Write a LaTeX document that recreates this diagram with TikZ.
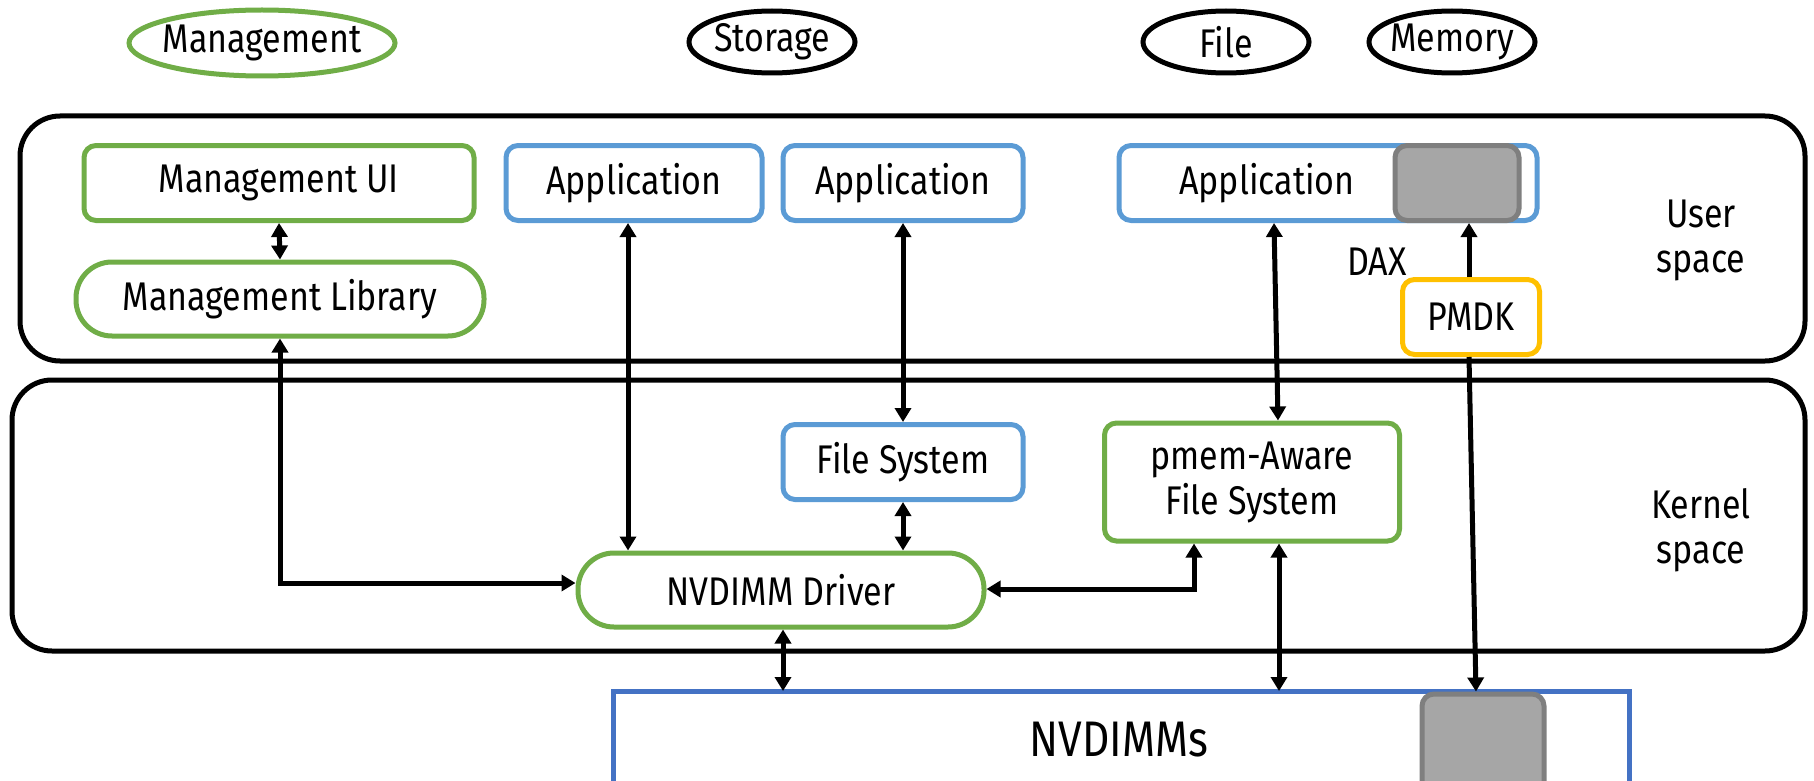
\documentclass[tikz,border=0pt]{standalone}
\usepackage{fontspec}
\setmainfont[FakeStretch=0.85]{Fira Sans}
\usetikzlibrary{arrows.meta,shapes.geometric}
\definecolor{grn}{HTML}{70AD47}
\definecolor{lblue}{HTML}{5B9BD5}
\definecolor{dblue}{HTML}{4472C4}
\definecolor{ylw}{HTML}{FFC000}
\definecolor{gfill}{HTML}{A6A6A6}
\definecolor{gline}{HTML}{7F7F7F}
\newcommand{\tagtext}[1]{\makebox[100pt]{#1}}
\tikzset{
  txt/.style={font=\fontsize{40}{45}\selectfont, inner sep=0pt, align=center},
  layer/.style={draw=black, line width=5pt, rounded corners=40pt},
  gbox/.style={txt, draw=grn, line width=5pt, rounded corners=12pt, fill=white},
  bbox/.style={txt, draw=lblue, line width=5pt, rounded corners=12pt, fill=white},
  pill/.style={txt, draw=grn, line width=5pt, rounded corners=36pt, fill=white},
  ybox/.style={txt, draw=ylw, line width=5pt, rounded corners=12pt, fill=white},
  daxbox/.style={draw=gline, fill=gfill, line width=5pt, rounded corners=12pt},
  tag/.style={txt, ellipse, draw=black, line width=5pt, minimum width=166pt, minimum height=62pt},
  biarrow/.style={line width=5pt, {Triangle[length=14pt,width=16pt]}-{Triangle[length=14pt,width=16pt]}},
  uparrow/.style={line width=5pt, -{Triangle[length=14pt,width=16pt]}},
}
\begin{document}
\begin{tikzpicture}[x=1pt,y=-1pt]
\useasboundingbox (0,0) rectangle (1814,781);
\clip (0,0) rectangle (1814,781);

% category tags
\node[tag, draw=grn, minimum width=266pt, minimum height=66pt] (tmgmt) at (262,43) {\tagtext{Management}};
\node[tag] (tstor) at (772,42) {\tagtext{Storage}};
\node[tag] (tfile) at (1226,42) {\tagtext{File}};
\node[tag] (tmem) at (1452,42) {\tagtext{Memory}};

% user and kernel layers
\draw[layer] (20,116) rectangle (1805,361);
\draw[layer] (12,380) rectangle (1805,651);
\node[txt] (ulabel) at (1701,240) {User\\space};
\node[txt] (klabel) at (1701,530) {Kernel\\space};

% user space components
\node[gbox, minimum width=390pt, minimum height=75pt] (mui) at (279,183) {Management UI};
\node[pill, minimum width=408pt, minimum height=74pt] (mlib) at (280,299) {Management Library};
\node[bbox, minimum width=256pt, minimum height=75pt] (app1) at (634,183) {Application};
\node[bbox, minimum width=240pt, minimum height=75pt] (app2) at (903,183) {Application};
\node[bbox, minimum width=418pt, minimum height=75pt] (app3) at (1328,183) {};
\node[txt] (app3t) at (1267,183) {Application};
\node[daxbox, minimum width=124pt, minimum height=75pt] (appdax) at (1457,183) {};
\node[txt] (dax) at (1377,262) {DAX};
\node[ybox, minimum width=137pt, minimum height=75pt] (pmdk) at (1471,317) {PMDK};

% kernel space components
\node[bbox, minimum width=240pt, minimum height=75pt] (fs) at (903,462) {File System};
\node[gbox, minimum width=295pt, minimum height=118pt] (pfs) at (1252,482) {pmem-Aware\\File System};
\node[pill, minimum width=406pt, minimum height=74pt] (drv) at (781,590) {NVDIMM Driver};

% persistent memory modules
\draw[draw=dblue, line width=5pt] (613,691) rectangle (1629,800);
\node[txt, font=\fontsize{50}{56}\selectfont] (nvd) at (1119,740) {NVDIMMs};
\node[daxbox, minimum width=122pt, minimum height=110pt] (nvdax) at (1483,749) {};
\coordinate (nvtop) at (1121,691);

% connectors
\draw[biarrow] (mui.south) -- (mlib.north);
\draw[biarrow] (mlib.south) |- (279,583 -| drv.west);
\draw[biarrow] (628,0 |- app1.south) -- (628,0 |- drv.north);
\draw[biarrow] (903,0 |- app2.south) -- (fs.north);
\draw[biarrow] (fs.south) -- (903,0 |- drv.north);
\draw[biarrow] (1274,0 |- app3.south) -- (1278,0 |- pfs.north);
\draw[biarrow] (drv.east |- 0,589) -| (1194,0 |- pfs.south);
\draw[biarrow] (1279,0 |- pfs.south) -- (1279,0 |- nvtop);
\draw[biarrow] (783,0 |- drv.south) -- (783,0 |- nvtop);
\draw[uparrow] (1469,0 |- pmdk.north) -- (1469,0 |- appdax.south);
\draw[uparrow] (1469,0 |- pmdk.south) -- (1476,0 |- nvdax.north);
\end{tikzpicture}
\end{document}
